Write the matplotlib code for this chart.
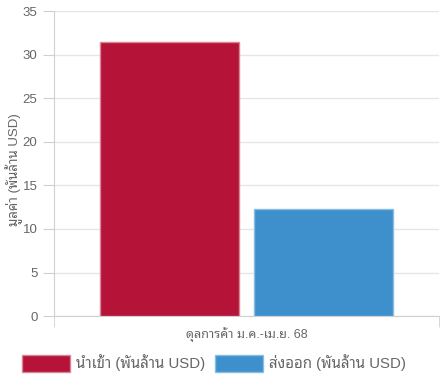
import numpy as np
from matplotlib import pyplot as plt
from matplotlib.patches import Patch

plt.rcParams['font.family'] = ['Liberation Sans', 'Noto Sans Thai Looped', 'DejaVu Sans']

category = 'ดุลการค้า ม.ค.-เม.ย. 68'
series = ['นำเข้า (พันล้าน USD)', 'ส่งออก (พันล้าน USD)']
values = [31.5, 12.3]
colors = ['#b51337', '#3d90cc']
edges = ['#d98395', '#8bbde2']

fig = plt.figure(figsize=(4.4, 3.85), dpi=100)
ax = fig.add_axes([0.123, 0.179, 0.875, 0.792])

slot = 0.8 / 2
for i, (v, c, e) in enumerate(zip(values, colors, edges)):
    x = -0.4 + slot * (i + 0.5)
    ax.bar(x, v, width=slot * 0.9, color=c, edgecolor=e, linewidth=1, zorder=3)

ax.set_xlim(-0.5, 0.5)
ax.set_ylim(0, 35)
ax.set_yticks(np.arange(0, 36, 5))
ax.set_xticks([0])
ax.set_xticklabels([category])
ax.set_xticks([-0.5, 0.5], minor=True)
ax.grid(axis='y', color='#e6e6e6', linewidth=1, zorder=0)
for s in ['top', 'right']:
    ax.spines[s].set_visible(False)
ax.spines['left'].set_color('#d0d0d0')
ax.spines['bottom'].set_color('#d0d0d0')
ax.tick_params(axis='y', colors='#d0d0d0', labelcolor='#666666', labelsize=9.5, length=8, pad=4)
ax.tick_params(axis='x', which='major', length=0, labelcolor='#666666', labelsize=9, pad=8)
ax.tick_params(axis='x', which='minor', length=8, color='#d0d0d0')
ax.set_ylabel('มูลค่า (พันล้าน USD)', color='#666666', fontsize=9.5)
ax.yaxis.set_label_coords(-0.082, 0.48)

handles = [Patch(facecolor=c, edgecolor=e, label=s) for s, c, e in zip(series, colors, edges)]
fig.legend(handles=handles, loc='lower center', bbox_to_anchor=(0.487, 0.0), ncol=2,
           frameon=False, fontsize=10.8, handlelength=3.2, handleheight=1.3,
           handletextpad=0.4, labelcolor='#666666', columnspacing=0.65)

fig.savefig('out.png', dpi=100)
